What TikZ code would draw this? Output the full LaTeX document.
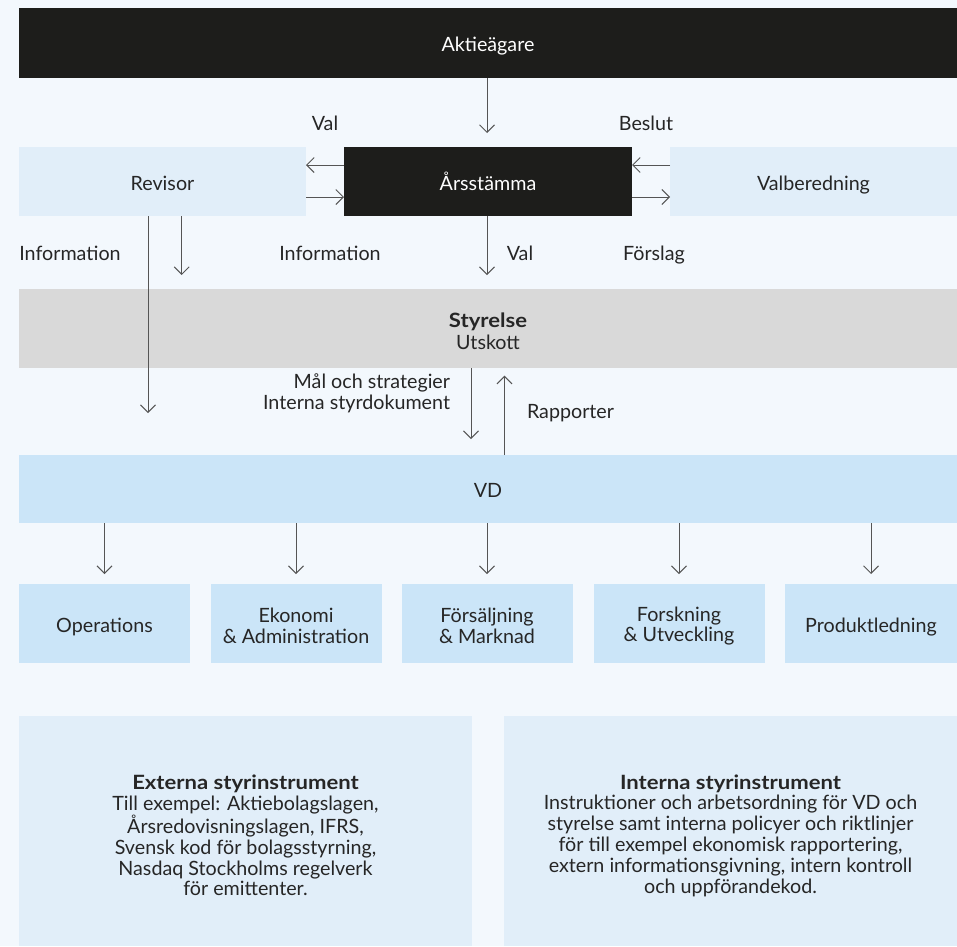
\documentclass[tikz,border=0pt]{standalone}
\usepackage{fontspec}
\setmainfont{Lato}
\newfontfamily\bwide[FakeStretch=1.12]{Lato Bold}
\usetikzlibrary{arrows.meta}
\definecolor{bg}{HTML}{F3F8FD}
\definecolor{blackbox}{HTML}{1D1D1B}
\definecolor{lightbox}{HTML}{E1EEF9}
\definecolor{bluebox}{HTML}{CBE5F8}
\definecolor{graybox}{HTML}{D9D9D9}
\definecolor{txt}{HTML}{262626}
\definecolor{arrowc}{HTML}{555555}
\newcommand{\hd}[1]{{\bwide #1}}
\begin{document}
\begin{tikzpicture}[x=1pt,y=-1pt,
  every node/.style={inner sep=0pt, outer sep=0pt, text=txt, font=\fontsize{19.7}{20.5}\selectfont},
  box/.style={draw=none, align=center},
  one/.style={text height=17.5pt, text depth=0pt},
  blk/.style={box, one, fill=blackbox, text=white},
  lbox/.style={box, fill=lightbox},
  bbox/.style={box, fill=bluebox},
  gbox/.style={box, fill=graybox},
  inner/.style={align=center},
  lbl/.style={anchor=base},
  arr/.style={draw=arrowc, line width=1pt, -{Straight Barb[length=7.5pt,width=15pt]}}
]
\fill[bg] (0,0) rectangle (957,946);

% boxes
\node[blk, minimum width=938, minimum height=69.7] (aktie) at (488,42.85) {Aktieägare};
\node[blk, minimum width=288, minimum height=69] (ars) at (488,181.5) {Årsstämma};
\node[lbox, one, minimum width=287, minimum height=69] (rev) at (162.5,181.5) {Revisor};
\node[lbox, one, minimum width=287, minimum height=69] (valb) at (813.5,181.5) {Valberedning};
\node[gbox, minimum width=938, minimum height=79] (sty) at (488,328.5) {};
\node[inner, font=\fontsize{19.7}{21.5}\selectfont] (stytext) at ([yshift=-2.8pt]sty.center) {\hd{Styrelse}\\Utskott};
\node[bbox, one, minimum width=938, minimum height=68] (vd) at (488,489) {VD};

\node[bbox, one, minimum width=171, minimum height=78.7] (d1) at (104.5,623.35) {Operations};
\node[bbox, minimum width=171, minimum height=78.7] (d2) at (296,623.35) {};
\node[bbox, minimum width=171, minimum height=78.7] (d3) at (487,623.35) {};
\node[bbox, minimum width=171, minimum height=78.7] (d4) at (679,623.35) {};
\node[bbox, one, minimum width=172, minimum height=78.7] (d5) at (871,623.35) {Produktledning};
\node[inner] (d2t) at ([yshift=-2.7pt]d2.center) {Ekonomi\\\& Administration};
\node[inner] (d3t) at ([yshift=-2.7pt]d3.center) {Försäljning\\\& Marknad};
\node[inner] (d4t) at ([yshift=-2.7pt]d4.center) {Forskning\\\& Utveckling};

\node[lbox, minimum width=453, minimum height=230] (ext) at (245.5,831) {};
\node[lbox, minimum width=453, minimum height=230] (int) at (730.5,831) {};
\node[inner, font=\fontsize{19.7}{20.8}\selectfont] (extt) at ([yshift=-4.5pt]ext.center) {\hd{Externa styrinstrument}\\Till exempel: Aktiebolagslagen,\\Årsredovisningslagen, IFRS,\\Svensk kod för bolagsstyrning,\\Nasdaq Stockholms regelverk\\för emittenter.};
\node[inner, font=\fontsize{19.7}{20.8}\selectfont] (intt) at ([yshift=-4.5pt]int.center) {\hd{Interna styrinstrument}\\Instruktioner och arbetsordning för VD och\\styrelse samt interna policyer och riktlinjer\\för till exempel ekonomisk rapportering,\\extern informationsgivning, intern kontroll\\och uppförandekod.};

% free arrow ends
\coordinate (a1) at (487,133);
\coordinate (r1) at (148,413);
\coordinate (r2) at (181.7,275);
\coordinate (s1) at (487,275);
\coordinate (m1) at (471,439);
\coordinate (m2) at (504.5,375.7);
\foreach \i/\x in {1/104.5,2/296,3/487,4/679,5/871}{\coordinate (e\i) at (\x,574);}

% connectors
\draw[arr] (aktie.south -| a1) -- (a1);
\draw[arr] ([yshift=16.5pt]ars.west) -- ([yshift=16.5pt]rev.east);
\draw[arr] ([yshift=-15.5pt]rev.east) -- ([yshift=-15.5pt]ars.west);
\draw[arr] ([yshift=16.5pt]valb.west) -- ([yshift=16.5pt]ars.east);
\draw[arr] ([yshift=-15.5pt]ars.east) -- ([yshift=-15.5pt]valb.west);
\draw[arr] (rev.south -| r1) -- (r1);
\draw[arr] (rev.south -| r2) -- (r2);
\draw[arr] (ars.south -| s1) -- (s1);
\draw[arr] (sty.south -| m1) -- (m1);
\draw[arr] (vd.north -| m2) -- (m2);
\foreach \i in {1,...,5}{\draw[arr] (vd.south -| e\i) -- (e\i);}

% labels
\node[lbl] (lval1) at (325,130) {Val};
\node[lbl] (lbeslut) at (646,130) {Beslut};
\node[lbl] (linfo1) at (70,260) {Information};
\node[lbl] (linfo2) at (330,260) {Information};
\node[lbl] (lval2) at (520,260) {Val};
\node[lbl] (lforslag) at (654,260) {Förslag};
\node[anchor=base east, align=right] (lmal) at (450,409) {Mål och strategier\\Interna styrdokument};
\node[anchor=base west] (lrapp) at (527,418) {Rapporter};
\end{tikzpicture}
\end{document}
